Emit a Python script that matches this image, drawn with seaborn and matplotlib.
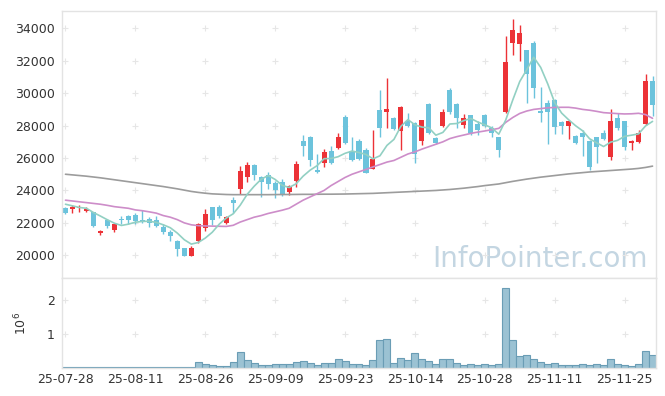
"""Daily candlestick chart with 5/20/long moving averages and a volume panel
(25-07-28 .. 25-12-01, 85 trading days)."""

import matplotlib
matplotlib.use("Agg")
import numpy as np
import pandas as pd
import seaborn as sns
import matplotlib.pyplot as plt

tick_pos = [0, 10, 20, 30, 40, 50, 60, 70, 80]
tick_labels = ["25-07-28", "25-08-11", "25-08-26", "25-09-09", "25-09-23",
               "25-10-14", "25-10-28", "25-11-11", "25-11-25"]

open_ = [22900, 22850, 22900, 22750, 22650, 21400, 22150, 21550, 22200, 22450,
         22500, 22200, 22250, 22150, 21750, 21450, 20900, 20450, 19950, 20900,
         21700, 23000, 22950, 21980, 23400, 24100, 24850, 25550, 24800, 24950,
         24450, 24550, 23900, 24600, 27050, 27300, 25250, 25700, 26450, 26600,
         28550, 26450, 27050, 26500, 25350, 28950, 28850, 28500, 27650, 28300,
         28150, 27050, 29350, 27250, 27950, 30200, 29350, 28050, 28650, 28100,
         28650, 27850, 27300, 28850, 33100, 33050, 32650, 33100, 28900, 29400,
         29600, 28200, 28000, 27350, 27550, 27050, 27300, 27550, 26050, 28500,
         28300, 26900, 27000, 28100, 30750]
high = [22950, 23100, 23100, 22950, 22700, 21550, 22250, 22000, 22400, 22500,
        22600, 22800, 22350, 22450, 21950, 21550, 20950, 20450, 20550, 22000,
        22850, 23000, 23100, 22450, 23600, 25500, 25750, 25650, 24900, 25150,
        24600, 24700, 24350, 25800, 27450, 27350, 26250, 26550, 26750, 27550,
        28650, 27300, 27150, 26600, 27750, 30200, 30950, 28550, 29200, 28800,
        28200, 28350, 29400, 27300, 29000, 30300, 29400, 28700, 28650, 28300,
        28700, 27950, 27300, 33500, 34600, 34200, 32650, 33200, 30400, 29600,
        29650, 28300, 28300, 27400, 27750, 27100, 27300, 27700, 29000, 28800,
        28300, 27100, 27750, 31200, 31050]
low = [22550, 22600, 22700, 22650, 21750, 21250, 21700, 21450, 21900, 21950,
       21950, 22000, 21750, 21750, 21300, 20900, 19980, 19950, 19950, 20750,
       21500, 21850, 22300, 21900, 22600, 23800, 24500, 24650, 23600, 24100,
       23550, 23650, 23700, 24200, 26100, 25500, 25100, 25450, 25650, 26550,
       26850, 25800, 25900, 25050, 25300, 27300, 27850, 27750, 26500, 27900,
       25700, 26800, 27500, 26850, 27900, 28700, 27850, 27850, 27400, 27400,
       27900, 27300, 26050, 28800, 32350, 32000, 29400, 29700, 28250, 26850,
       27500, 27500, 27150, 26850, 26100, 25250, 25700, 27100, 25900, 27700,
       26500, 26500, 26950, 28050, 28600]
close = [22600, 22950, 23000, 22850, 21800, 21500, 21800, 21950, 22150, 22200,
         22100, 22050, 22000, 21800, 21450, 21200, 20400, 19950, 20450, 21950,
         22550, 22200, 22450, 22350, 23250, 25200, 25550, 24950, 24500, 24400,
         24000, 23750, 24250, 25650, 26750, 25850, 25150, 26400, 25700, 27300,
         26900, 25850, 25950, 25100, 25950, 27850, 29050, 27800, 29150, 28000,
         26250, 28350, 27550, 26900, 28850, 28850, 28500, 28450, 27550, 27750,
         28000, 27550, 26500, 31950, 33900, 33700, 31200, 30350, 28800, 28850,
         27900, 27950, 28300, 26950, 27300, 25450, 26700, 27150, 28300, 27850,
         26700, 27050, 27550, 30750, 29250]
# volume in millions of shares
volume = [0.03, 0.01, 0.01, 0.01, 0.03, 0.03, 0.01, 0.01, 0.03, 0.01,
          0.03, 0.03, 0.01, 0.03, 0.03, 0.03, 0.03, 0.01, 0.01, 0.155,
          0.10, 0.07, 0.04, 0.04, 0.155, 0.475, 0.22, 0.125, 0.07, 0.07,
          0.10, 0.10, 0.10, 0.155, 0.185, 0.125, 0.07, 0.125, 0.15, 0.26,
          0.21, 0.115, 0.115, 0.09, 0.23, 0.81, 0.84, 0.145, 0.29, 0.23,
          0.43, 0.26, 0.20, 0.115, 0.26, 0.26, 0.145, 0.09, 0.115, 0.09,
          0.115, 0.09, 0.115, 2.35, 0.81, 0.35, 0.375, 0.26, 0.17, 0.115,
          0.145, 0.09, 0.09, 0.09, 0.115, 0.09, 0.115, 0.09, 0.26, 0.115,
          0.09, 0.06, 0.115, 0.49, 0.375]
# first MA5 points need closes from before the window
ma5_head = [23150, 23050, 22950, 22900]
ma20 = [23400, 23350, 23300, 23250, 23200, 23150, 23080, 23000, 22950, 22900,
        22800, 22750, 22680, 22600, 22450, 22350, 22200, 22000, 21880, 21830,
        21810, 21800, 21790, 21780, 21850, 22050, 22200, 22350, 22450, 22580,
        22680, 22780, 22900, 23150, 23400, 23600, 23800, 24000, 24300, 24550,
        24800, 25000, 25150, 25300, 25450, 25600, 25750, 25850, 26050, 26250,
        26380, 26550, 26700, 26850, 27000, 27200, 27320, 27420, 27520, 27600,
        27670, 27750, 27830, 28200, 28500, 28750, 28900, 29000, 29050, 29100,
        29120, 29130, 29130, 29080, 29000, 28950, 28880, 28800, 28770, 28740,
        28720, 28730, 28760, 28680, 28450]
ma_long = [25000, 24960, 24920, 24880, 24830, 24780, 24720, 24660, 24600, 24540,
           24480, 24420, 24360, 24300, 24240, 24170, 24100, 24020, 23940, 23880,
           23830, 23790, 23770, 23750, 23740, 23740, 23740, 23740, 23740, 23740,
           23745, 23750, 23750, 23755, 23760, 23760, 23765, 23770, 23770, 23775,
           23780, 23790, 23800, 23810, 23820, 23840, 23860, 23880, 23900, 23920,
           23940, 23960, 23980, 24000, 24030, 24060, 24100, 24140, 24190, 24240,
           24300, 24350, 24400, 24480, 24560, 24630, 24700, 24760, 24820, 24870,
           24920, 24970, 25020, 25060, 25100, 25140, 25170, 25200, 25230, 25260,
           25290, 25320, 25360, 25420, 25500]

UP = "#ec3237"
DOWN = "#6cc3dc"

df = pd.DataFrame({"open": open_, "high": high, "low": low, "close": close,
                   "volume": np.array(volume) * 1e6, "ma20": ma20, "ma_long": ma_long})
df["idx"] = np.arange(len(df))
df["ma5"] = df["close"].rolling(5).mean()
df.loc[:3, "ma5"] = ma5_head
df["up"] = df["close"] >= df["open"]

sns.set_style("white")
plt.rcParams["font.family"] = ["DejaVu Sans"]

fig = plt.figure(figsize=(6.65, 3.96), dpi=100)
ax = fig.add_axes([0.0932, 0.2972, 0.8933, 0.6758])
axv = fig.add_axes([0.0932, 0.0715, 0.8933, 0.2257], sharex=ax)

colors = np.where(df["up"], UP, DOWN)
body_low = df[["open", "close"]].min(axis=1)
body_h = (df["close"] - df["open"]).abs().clip(lower=70)
ax.vlines(df["idx"], df["low"], df["high"], colors=colors, lw=1.0, zorder=2)
ax.bar(df["idx"], body_h, bottom=body_low, width=0.72, color=colors, lw=0, zorder=2)

sns.lineplot(data=df, x="idx", y="ma_long", ax=ax, color="#9c9c9c", lw=1.2, zorder=3)
sns.lineplot(data=df, x="idx", y="ma20", ax=ax, color="#cd8dc9", lw=1.2, zorder=3)
sns.lineplot(data=df, x="idx", y="ma5", ax=ax, color="#92d0c3", lw=1.2, zorder=3)

axv.bar(df["idx"], df["volume"], width=1.0, color="#9bc2d3", edgecolor="#6a9db5",
        lw=0.8, zorder=2)

# light "+" marks at grid intersections
price_ticks = np.arange(20000, 34001, 2000)
gx, gy = np.meshgrid(tick_pos, price_ticks)
ax.scatter(gx.ravel(), gy.ravel(), marker="+", s=14, color="#e6e6e6", lw=0.8, zorder=1)
gx, gy = np.meshgrid(tick_pos, [1e6, 2e6])
axv.scatter(gx.ravel(), gy.ravel(), marker="+", s=14, color="#e6e6e6", lw=0.8, zorder=1)

ax.set_xlim(-0.5, 84.5)
ax.set_ylim(18580, 35090)
axv.set_ylim(0, 2.64e6)

ax.set_yticks(price_ticks)
ax.set_yticklabels([str(v) for v in price_ticks])
axv.set_yticks([1e6, 2e6])
axv.set_yticklabels(["1", "2"])
axv.set_xticks(tick_pos)
axv.set_xticklabels(tick_labels)
ax.tick_params(axis="x", labelbottom=False)

for a in (ax, axv):
    a.set_xlabel("")
    a.set_ylabel("")
    a.tick_params(length=0, labelsize=9, colors="#333333", pad=5)
    for s in a.spines.values():
        s.set_color("#e3e3e3")
        s.set_linewidth(1.0)
axv.tick_params(axis="x", pad=4)

axv.set_ylabel(r"$10^6$", fontsize=9, color="#333333")
axv.yaxis.set_label_coords(-0.055, 0.5)

ax.text(0.9865, 0.042, "InfoPointer.com", transform=ax.transAxes, ha="right",
        va="baseline", fontsize=20, color="#c4d6e2", zorder=0)

fig.savefig("out.png", dpi=100)
